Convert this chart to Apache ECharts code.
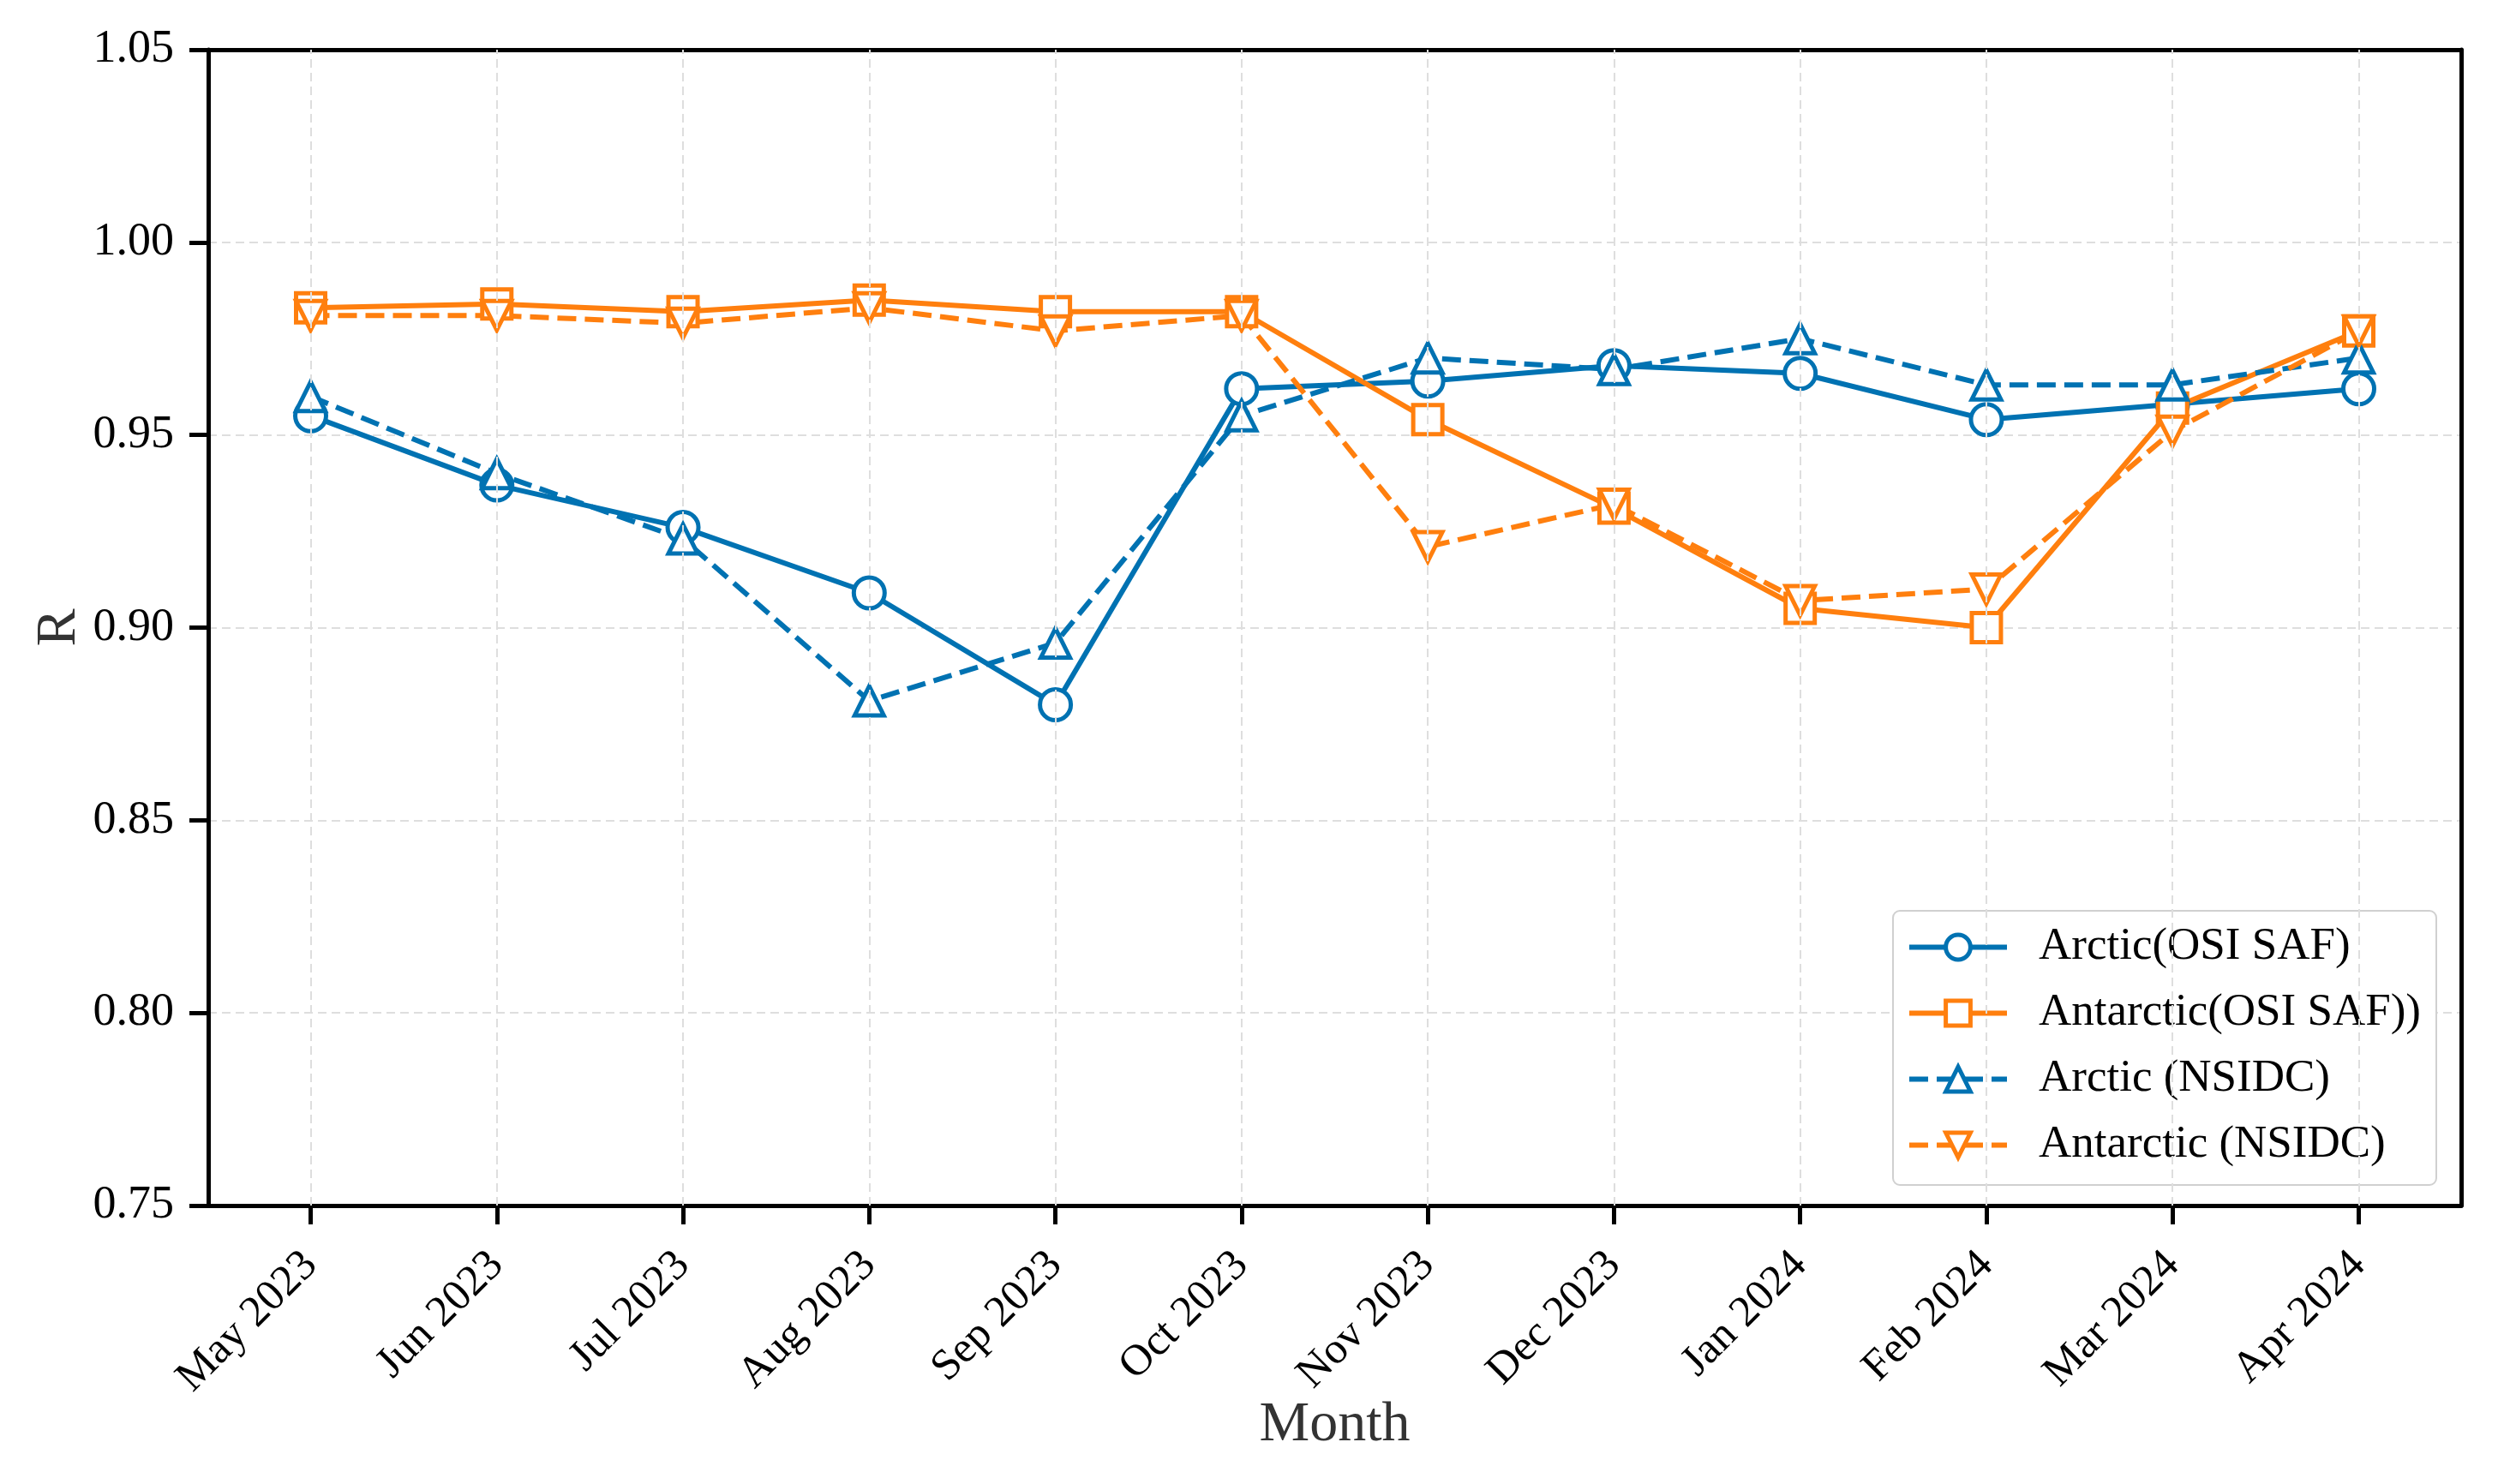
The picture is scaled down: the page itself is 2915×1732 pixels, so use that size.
<!DOCTYPE html>
<html>
<head>
<meta charset="utf-8">
<script src="https://cdn.jsdelivr.net/npm/echarts@6/dist/echarts.min.js"></script>
<style>
html,body{margin:0;padding:0;background:#fff;}
#chart{width:2915px;height:1732px;}
</style>
</head>
<body>
<div id="chart"></div>
<script>
const months = ['May 2023','Jun 2023','Jul 2023','Aug 2023','Sep 2023','Oct 2023','Nov 2023','Dec 2023','Jan 2024','Feb 2024','Mar 2024','Apr 2024'];
const yTicks = [0.75, 0.80, 0.85, 0.90, 0.95, 1.00, 1.05];
const arcticOSI = [0.955, 0.937, 0.926, 0.909, 0.880, 0.962, 0.964, 0.968, 0.966, 0.954, 0.958, 0.962];
const antarcticOSI = [0.983, 0.984, 0.982, 0.985, 0.982, 0.982, 0.954, 0.931, 0.905, 0.900, 0.957, 0.977];
const arcticNSIDC = [0.960, 0.940, 0.923, 0.881, 0.896, 0.955, 0.970, 0.967, 0.975, 0.963, 0.963, 0.970];
const antarcticNSIDC = [0.981, 0.981, 0.979, 0.983, 0.977, 0.981, 0.921, 0.932, 0.907, 0.910, 0.951, 0.977];
const seriesNames = ['Arctic(OSI SAF)', 'Antarctic(OSI SAF))', 'Arctic (NSIDC)', 'Antarctic (NSIDC)'];

const BLUE = '#0072B2';
const ORANGE = '#FF7F0E';
const FONT = '"Liberation Serif", "Times New Roman", serif';
const idx = months.map((m, i) => i);

function mkSeries(name, vals, color, symbol, dashed, rotate) {
  return {
    name: name,
    type: 'line',
    data: vals.map((v, i) => [i, v]),
    symbol: symbol,
    symbolSize: symbol === 'circle' ? 36 : 34,
    symbolRotate: rotate || 0,
    showAllSymbol: true,
    z: 3,
    lineStyle: { color: color, width: 6, type: dashed ? [22, 10] : 'solid' },
    itemStyle: { color: '#ffffff', borderColor: color, borderWidth: 5 },
    emphasis: { disabled: true }
  };
}

const frameAxisLine = { show: true, onZero: false, lineStyle: { color: '#000', width: 5 } };

const chart = echarts.init(document.getElementById('chart'), null, { renderer: 'canvas' });
chart.setOption({
  animation: false,
  backgroundColor: '#ffffff',
  textStyle: { fontFamily: FONT },
  grid: {
    left: 243, right: 43, top: 58, bottom: 325,
    show: false
  },
  xAxis: [{
    type: 'value',
    min: -0.55, max: 11.55,
    name: 'Month',
    nameLocation: 'middle',
    nameGap: 224,
    nameMoveOverlap: false,
    nameTextStyle: { fontFamily: FONT, fontSize: 66, color: '#333' },
    axisLine: frameAxisLine,
    axisTick: { show: true, customValues: idx, length: 22, lineStyle: { color: '#000', width: 5 } },
    axisLabel: {
      customValues: idx,
      rotate: 45,
      margin: 62,
      fontFamily: FONT, fontSize: 51, color: '#000',
      formatter: v => months[Math.round(v)] || ''
    },
    splitLine: { show: false }
  }, {
    type: 'value', position: 'top',
    min: -0.55, max: 11.55,
    axisLine: frameAxisLine,
    axisTick: { show: false }, axisLabel: { show: false }, splitLine: { show: false }
  }],
  yAxis: [{
    type: 'value',
    min: 0.75, max: 1.05, interval: 0.05,
    name: 'R',
    nameLocation: 'middle',
    nameGap: 140,
    nameMoveOverlap: false,
    nameTextStyle: { fontFamily: FONT, fontSize: 66, color: '#333' },
    axisLine: frameAxisLine,
    axisTick: { show: true, length: 22, lineStyle: { color: '#000', width: 5 } },
    axisLabel: {
      margin: 40, fontFamily: FONT, fontSize: 54, color: '#000',
      formatter: v => v.toFixed(2)
    },
    splitLine: { show: true, lineStyle: { color: '#dedede', width: 2, type: [10, 6] } }
  }, {
    type: 'value', position: 'right',
    min: 0.75, max: 1.05, interval: 0.05,
    axisLine: frameAxisLine,
    axisTick: { show: false }, axisLabel: { show: false }, splitLine: { show: false }
  }],
  legend: {
    data: seriesNames,
    orient: 'vertical',
    left: 2209, top: 1063,
    itemWidth: 114, itemHeight: 36,
    itemGap: 24,
    padding: [16, 18, 20, 16],
    backgroundColor: '#ffffff',
    borderColor: '#d0d0d0', borderWidth: 2, borderRadius: 8,
    textStyle: { fontFamily: FONT, fontSize: 53, color: '#000', padding: [0, 0, 0, 32] },
    lineStyle: { width: 6 },
    itemStyle: { color: '#ffffff', borderWidth: 5 },
    selectedMode: false
  },
  series: [
    {
      name: 'grid-v', type: 'line', data: [], z: 1, silent: true,
      markLine: {
        silent: true, symbol: 'none', label: { show: false },
        lineStyle: { color: '#dedede', width: 2, type: [10, 6] },
        data: idx.map(i => ({ xAxis: i }))
      }
    },
    mkSeries(seriesNames[0], arcticOSI, BLUE, 'circle', false),
    mkSeries(seriesNames[1], antarcticOSI, ORANGE, 'rect', false),
    mkSeries(seriesNames[2], arcticNSIDC, BLUE, 'triangle', true),
    mkSeries(seriesNames[3], antarcticNSIDC, ORANGE, 'triangle', true, 180)
  ]
});
</script>
</body>
</html>
